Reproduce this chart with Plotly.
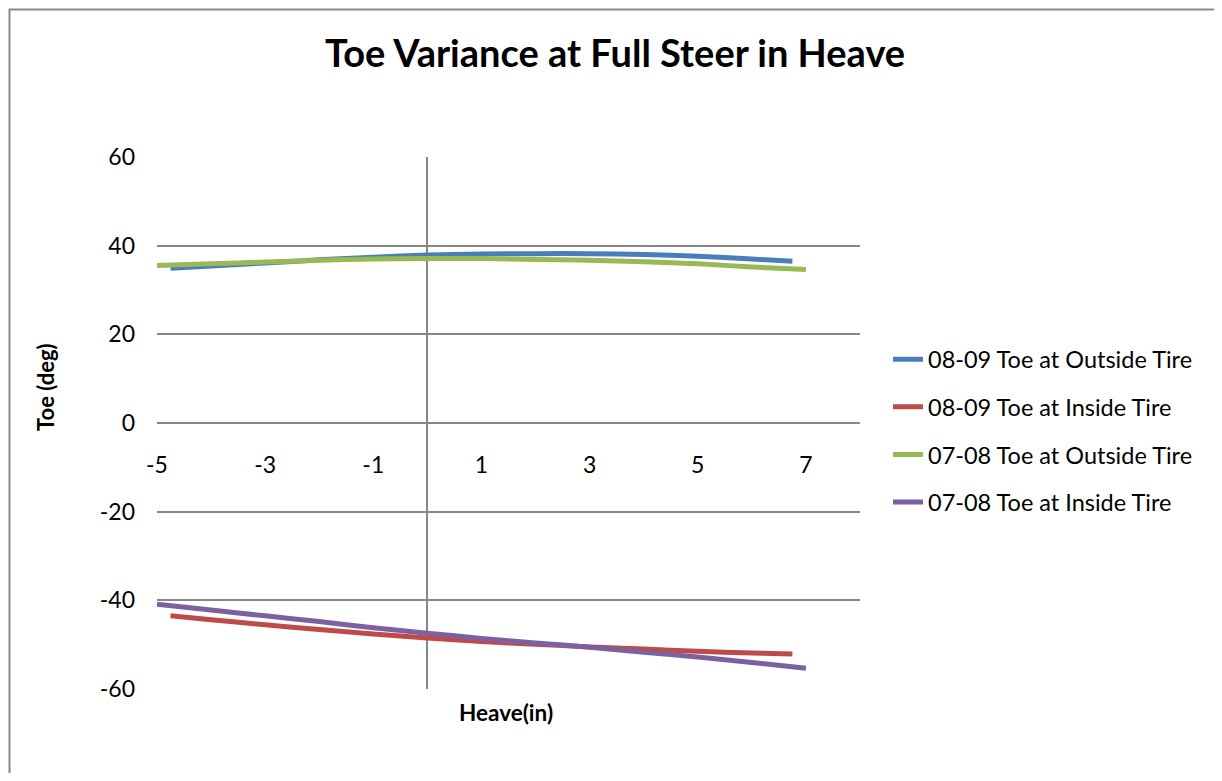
import plotly.graph_objects as go

# ---- data ----
x_0809 = [-4.75, -4, -3, -2, -1, 0, 1, 2, 3, 4, 5, 6, 6.75]
out_0809 = [34.9, 35.4, 36.1, 36.8, 37.4, 37.9, 38.1, 38.2, 38.2, 38.0, 37.6, 37.0, 36.5]
in_0809 = [-43.5, -44.4, -45.5, -46.6, -47.6, -48.5, -49.3, -49.9, -50.5, -51.0, -51.5, -51.9, -52.1]

x_0708 = [-5, -4, -3, -2, -1, 0, 1, 2, 3, 4, 5, 6, 7]
out_0708 = [35.5, 35.9, 36.3, 36.7, 37.0, 37.1, 37.1, 36.9, 36.7, 36.4, 35.9, 35.2, 34.6]
in_0708 = [-40.9, -42.2, -43.5, -44.8, -46.2, -47.4, -48.6, -49.6, -50.6, -51.7, -52.8, -54.0, -55.3]

names = ["08-09 Toe at Outside Tire", "08-09 Toe at Inside Tire",
         "07-08 Toe at Outside Tire", "07-08 Toe at Inside Tire"]
colors = ["#4a7ebb", "#be4b48", "#98b954", "#7d60a0"]

x_ticks = [-5, -3, -1, 1, 3, 5, 7]
y_ticks = [-60, -40, -20, 0, 20, 40, 60]

# page has an 8px body margin; work in target page pixels and convert
OFF = 8
W, H = 1222 - OFF, 781 - 2 * OFF
L, R, T, B = 157 - OFF, 860 - OFF, 157 - OFF, 689 - OFF

def px(xp):
    return (xp - OFF - L) / (R - L)

def py(yp):
    return (B - (yp - OFF)) / (B - T)

FONT = "Lato, 'Open Sans', sans-serif"
GRID = "#868686"

fig = go.Figure()
series = [(x_0809, out_0809), (x_0809, in_0809), (x_0708, out_0708), (x_0708, in_0708)]
for i, ((xs, ys), n, c) in enumerate(zip(series, names, colors)):
    fig.add_trace(go.Scatter(x=xs, y=ys, mode="lines", name=n, legendgroup=str(i),
                             line=dict(color=c, width=5, shape="spline", smoothing=0.6)))

fig.update_layout(
    width=W, height=H,
    margin=dict(l=L, r=W - R, t=T, b=H - B),
    paper_bgcolor="white", plot_bgcolor="white",
    font=dict(family=FONT, size=23, color="black"),
    showlegend=True,
    legend=dict(x=px(888), y=py(431), xanchor="left", yanchor="middle",
                font=dict(family=FONT, size=23.5, color="black"),
                tracegroupgap=14, bgcolor="rgba(0,0,0,0)"),
    xaxis=dict(range=[-5, 8], tickvals=x_ticks, ticktext=[str(v) for v in x_ticks],
               showgrid=False, zeroline=True, zerolinecolor=GRID, zerolinewidth=2,
               showline=False, anchor="free", position=0.5, ticks="",
               ticklabelstandoff=26, tickfont=dict(size=23)),
    yaxis=dict(range=[-60, 60], tickvals=y_ticks, ticktext=[str(v) for v in y_ticks],
               showgrid=True, gridcolor=GRID, gridwidth=2,
               zeroline=True, zerolinecolor=GRID, zerolinewidth=2,
               showline=False, anchor="free", position=0, ticks="",
               ticklabelstandoff=22, tickfont=dict(size=23)),
    annotations=[
        dict(text="<b>Toe Variance at Full Steer in Heave</b>", x=px(615), y=py(52),
             xref="paper", yref="paper", showarrow=False, xanchor="center", yanchor="middle",
             font=dict(family=FONT, size=38)),
        dict(text="<b>Heave(in)</b>", x=px(506), y=py(713),
             xref="paper", yref="paper", showarrow=False, xanchor="center", yanchor="middle",
             font=dict(family=FONT, size=22.5)),
        dict(text="<b>Toe (deg)</b>", x=px(45), y=py(387), textangle=-90,
             xref="paper", yref="paper", showarrow=False, xanchor="center", yanchor="middle",
             font=dict(family=FONT, size=22)),
    ],
    shapes=[dict(type="rect", xref="paper", yref="paper",
                 x0=px(9.5), x1=px(1260), y0=py(9.5), y1=py(820),
                 line=dict(color="#898989", width=2), fillcolor="rgba(0,0,0,0)", layer="below")],
)

fig.write_html("out.html")
